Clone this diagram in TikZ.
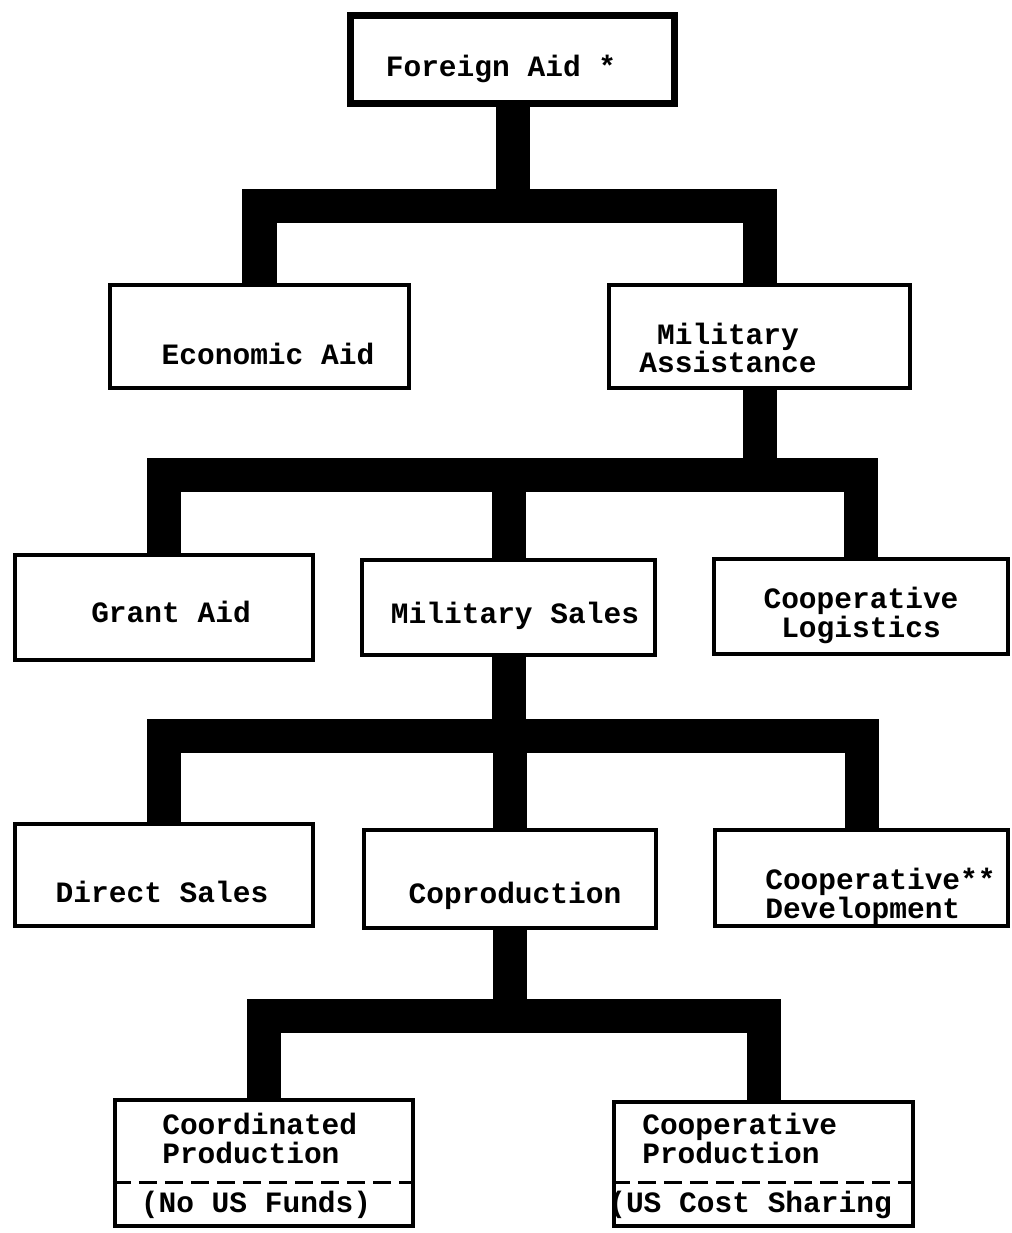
\documentclass[tikz,border=0pt]{standalone}
\usepackage{fontspec}
\setmonofont{Liberation Mono}
\usetikzlibrary{positioning}

\begin{document}
\begin{tikzpicture}[x=0.025cm, y=-0.025cm,
box/.style= {rectangle, draw=black, line width=0.1cm, fill=white, inner sep=0pt},
label/.style= {inner sep=0pt, align=center, font=\fontsize{21}{20.5}\selectfont\ttfamily\bfseries},
link/.style= {line width=0.85cm, line join=miter, line cap=butt},
split/.style= {line width=0.075cm, dash pattern=on 0.45cm off 0.2cm} ]
\useasboundingbox (0,0) rectangle (1011,1233);
% boxes
\node (fa) [box, line width=0.175cm, minimum width=8.1cm, minimum height=2.2cm] at (512.5,59.5) {};
\node (ea) [box, minimum width=7.475cm, minimum height=2.575cm] at (259.5,336.5) {};
\node (ma) [box, minimum width=7.525cm, minimum height=2.575cm] at (759.5,336.5) {};
\node (ga) [box, minimum width=7.45cm, minimum height=2.625cm] at (164,607.5) {};
\node (ms) [box, minimum width=7.325cm, minimum height=2.375cm] at (508.5,607.5) {};
\node (cl) [box, minimum width=7.35cm, minimum height=2.375cm] at (861,606.5) {};
\node (ds) [box, minimum width=7.45cm, minimum height=2.55cm] at (164,875) {};
\node (cp) [box, minimum width=7.3cm, minimum height=2.45cm] at (510,879) {};
\node (cd) [box, minimum width=7.325cm, minimum height=2.4cm] at (861.5,878) {};
\node (cop) [box, minimum width=7.45cm, minimum height=3.15cm] at (264,1163) {};
\node (cpp) [box, minimum width=7.475cm, minimum height=3.1cm] at (763.5,1164) {};
\draw[split] (cop.west |- 0,1182) -- (cop.east |- 0,1182);
\draw[split] (cpp.west |- 0,1182) -- (cpp.east |- 0,1182);
% texts (two-line labels sit on the baseline of their last line)
\node (fa-t) [label, anchor=base] at (501,77) {Foreign Aid *};
\node (ea-t) [label, anchor=base] at (268,365) {Economic Aid};
\node (ma-t) [label, anchor=base] at (728,373) {Military\\Assistance};
\node (ga-t) [label, anchor=base] at (171,622) {Grant Aid};
\node (ms-t) [label, anchor=base] at (515,623) {Military Sales};
\node (cl-t) [label, anchor=base] at (861,637) {Cooperative\\Logistics};
\node (ds-t) [label, anchor=base] at (162,902) {Direct Sales};
\node (cp-t) [label, anchor=base] at (515,903) {Coproduction};
\node (cd-t) [label, align=left, anchor=base west] at (765,918) {Cooperative**\\Development};
\node (cop-t) [label, align=left, anchor=base west] at (162,1163) {Coordinated\\Production};
\node (cop-n) [label, anchor=base] at (256,1212) {(No US Funds)};
\node (cpp-t) [label, align=left, anchor=base west] at (642,1163) {Cooperative\\Production};
\node (cpp-n) [label, anchor=base west] at (608,1212) {(US Cost Sharing};
% connectors
\coordinate (j1) at (513,206);
\coordinate (j2) at (760,475);
\coordinate (j3) at (510,736);
\coordinate (j4) at (510,1016);
\draw[link] (fa.south) -- (fa.south |- j1);
\draw[link] (ea.north) -- (ea.north |- j1) -- (ma.north |- j1) -- (ma.north);
\draw[link] (ma.south) -- (ma.south |- j2);
\draw[link] (ga.north) -- (ga.north |- j2) -- (cl.north |- j2) -- (cl.north);
\draw[link] (ms.north) -- (ms.north |- j2);
\draw[link] (ms.south) -- (ms.south |- j3);
\draw[link] (ds.north) -- (ds.north |- j3) -- (cd.north |- j3) -- (cd.north);
\draw[link] (cp.north) -- (cp.north |- j3);
\draw[link] (cp.south) -- (cp.south |- j4);
\draw[link] (cop.north) -- (cop.north |- j4) -- (cpp.north |- j4) -- (cpp.north);
\end{tikzpicture}
\end{document}
